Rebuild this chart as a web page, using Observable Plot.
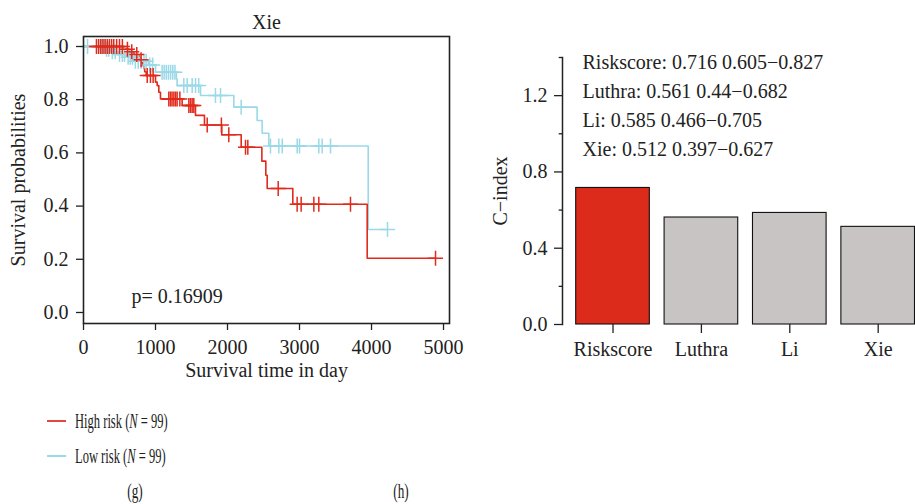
<!DOCTYPE html>
<html><head><meta charset="utf-8">
<script src="https://cdn.jsdelivr.net/npm/d3@7"></script>
<script src="https://cdn.jsdelivr.net/npm/@observablehq/plot@0.6"></script>
<style>
body{margin:0;background:#fff;}
#wrap{position:relative;width:915px;height:504px;overflow:hidden;font-family:'Liberation Serif',serif;color:#222;background:#fff;}
#km{position:absolute;left:0;top:0;}
#ci{position:absolute;left:480px;top:0;}
.leg{position:absolute;font-size:22px;line-height:22px;height:22px;transform-origin:left center;transform:scaleX(0.57);white-space:nowrap;}
.ln{position:absolute;width:19px;height:0;border-top:2px solid;}
.cap{position:absolute;width:100px;text-align:center;font-size:22px;line-height:22px;transform-origin:center center;transform:scaleX(0.6);}
</style>
</head><body>
<div id="wrap">
  <div id="km"></div>
  <div id="ci"></div>
  <div class="ln" style="left:47px;top:420px;border-color:#e0493c;"></div>
  <div class="leg" style="left:75px;top:410px;">High risk (<i>N</i> = 99)</div>
  <div class="ln" style="left:47px;top:455px;border-color:#9ad9e7;"></div>
  <div class="leg" style="left:75px;top:445px;">Low risk (<i>N</i> = 99)</div>
  <div class="cap" style="left:85px;top:480px;">(g)</div>
  <div class="cap" style="left:351px;top:480px;">(h)</div>
</div>
<script>
// ---- Kaplan–Meier (Xie) ----
const highT = [0, 565, 630, 700, 768, 790, 815, 825, 838, 850, 870, 1000, 1023, 1046, 1069, 1370, 1555, 1680, 1920, 2190, 2477, 2532, 2551, 2907, 3940, 4889];
const highS = [1, 0.99, 0.98, 0.97, 0.96, 0.95, 0.939, 0.928, 0.917, 0.905, 0.891, 0.866, 0.853, 0.828, 0.803, 0.778, 0.741, 0.705, 0.668, 0.621, 0.569, 0.516, 0.466, 0.407, 0.204, 0.204];
const highCensorT = [180, 210, 240, 270, 300, 330, 360, 390, 420, 460, 500, 540, 610, 670, 740, 800, 885, 930, 967, 1185, 1208, 1230, 1255, 1278, 1300, 1338, 1463, 1486, 1509, 1532, 1718, 1915, 2018, 2250, 2282, 2704, 2967, 3023, 3199, 3268, 3708, 4889];

const lowT = [0, 300, 380, 480, 600, 700, 900, 1000, 1290, 1300, 1625, 2088, 2411, 2481, 2574, 3954, 4222];
const lowS = [1, 0.99, 0.98, 0.97, 0.96, 0.945, 0.93, 0.903, 0.878, 0.853, 0.816, 0.772, 0.722, 0.674, 0.626, 0.312, 0.312];
const lowCensorT = [56, 236, 255, 275, 295, 320, 350, 400, 440, 500, 540, 570, 620, 650, 680, 720, 760, 800, 840, 870, 920, 960, 1092, 1120, 1150, 1180, 1210, 1240, 1270, 1393, 1440, 1509, 1556, 1600, 1833, 1903, 2190, 2597, 2713, 2760, 2968, 3000, 3268, 3315, 3431, 4222];

const xTicks = [0, 1000, 2000, 3000, 4000, 5000];
const yTicks = [0, 0.2, 0.4, 0.6, 0.8, 1.0];
const pText = "p= 0.16909";

// ---- C-index ----
const models = ["Riskscore", "Luthra", "Li", "Xie"];
const cindex = [0.716, 0.561, 0.585, 0.512];
const ciLow = [0.605, 0.44, 0.466, 0.397];
const ciHigh = [0.827, 0.682, 0.705, 0.627];
const barColors = ["#dc2b1a", "#c8c4c3", "#c8c4c3", "#c8c4c3"];

const RED = "#e02a1c", BLUE = "#9ad9e7";
const FONT = {fontFamily: "'Liberation Serif', serif", fontSize: "20px", color: "#222", background: "#fff"};

function survAt(T, S, t) { let s = S[0]; for (let i = 0; i < T.length; i++) if (T[i] <= t) s = S[i]; return s; }
const highLine = highT.map((t, i) => ({t, s: highS[i]}));
const lowLine = lowT.map((t, i) => ({t, s: lowS[i]}));
const highCens = highCensorT.map(t => ({t, s: survAt(highT, highS, t)}));
const lowCens = lowCensorT.map(t => ({t, s: survAt(lowT, lowS, t)}));

const crossSym = { draw(ctx, size) { const r = Math.sqrt(size / Math.PI); ctx.moveTo(-r, 0); ctx.lineTo(r, 0); ctx.moveTo(0, -r); ctx.lineTo(0, r); } };

const km = Plot.plot({
  width: 480, height: 390,
  marginLeft: 83, marginRight: 31, marginTop: 36, marginBottom: 67,
  x: {domain: [0, 5083], axis: null},
  y: {domain: [-0.0414, 1.0376], axis: null},
  style: FONT,
  marks: [
    Plot.line(lowLine, {x: "t", y: "s", curve: "step-after", stroke: BLUE, strokeWidth: 1.6}),
    Plot.line(highLine, {x: "t", y: "s", curve: "step-after", stroke: RED, strokeWidth: 1.6}),
    Plot.dot(lowCens, {x: "t", y: "s", symbol: crossSym, r: 7.5, stroke: BLUE, fill: "none", strokeWidth: 1.5}),
    Plot.dot(highCens, {x: "t", y: "s", symbol: crossSym, r: 7.5, stroke: RED, fill: "none", strokeWidth: 1.5}),
    Plot.frame({stroke: "#222", strokeWidth: 1.6}),
    Plot.axisY({ticks: yTicks, tickFormat: d3.format(".1f"), tickSize: 7, tickPadding: 8, label: null, strokeWidth: 1.3}),
    Plot.axisX({ticks: xTicks, tickFormat: d => String(d), tickSize: 7, tickPadding: 9, label: null, strokeWidth: 1.3}),
    Plot.text([pText], {x: 1300, y: 0.06, text: d => d}),
    Plot.text(["Xie"], {frameAnchor: "top", dy: -22, text: d => d}),
    Plot.text(["Survival time in day"], {frameAnchor: "bottom", dy: 53, textAnchor: "middle", text: d => d}),
    Plot.text(["Survival probabilities"], {frameAnchor: "left", dx: -65, rotate: -90, textAnchor: "middle", text: d => d})
  ]
});
document.getElementById("km").appendChild(km);

const bars = models.map((m, i) => ({model: m, c: cindex[i], color: barColors[i]}));
const annot = models.map((m, i) => `${m}: ${cindex[i]} ${ciLow[i]}\u2212${ciHigh[i]}`).join("\n");

const ci = Plot.plot({
  width: 435, height: 390,
  marginLeft: 82, marginRight: 0, marginTop: 57, marginBottom: 66,
  x: {domain: models, range: [95.7, 434.5], paddingInner: 0.167, paddingOuter: 0, round: false, axis: null},
  y: {domain: [0, 1.4], axis: null},
  color: {type: "identity"},
  style: FONT,
  marks: [
    Plot.barY(bars, {x: "model", y: "c", fill: "color", stroke: "#111", strokeWidth: 1.1}),
    Plot.frame({anchor: "left", stroke: "#222", strokeWidth: 1.5}),
    Plot.axisY({ticks: [0, 0.4, 0.8, 1.2], tickFormat: d3.format(".1f"), tickSize: 8, tickPadding: 7, label: null, strokeWidth: 1.3}),
    Plot.axisY({ticks: [0.2, 0.6, 1.0, 1.4], tickFormat: () => "", tickSize: 3.3, tickPadding: 0, label: null, strokeWidth: 1.3}),
    Plot.axisX({tickSize: 9, tickPadding: 8, label: null, strokeWidth: 1.3}),
    Plot.text([annot], {frameAnchor: "top-left", dx: 20, dy: -9, lineAnchor: "top", lineHeight: 1.45, textAnchor: "start", text: d => d}),
    Plot.text(["C\u2212index"], {frameAnchor: "left", dx: -62, rotate: -90, textAnchor: "middle", text: d => d})
  ]
});
document.getElementById("ci").appendChild(ci);
</script>
</body></html>
